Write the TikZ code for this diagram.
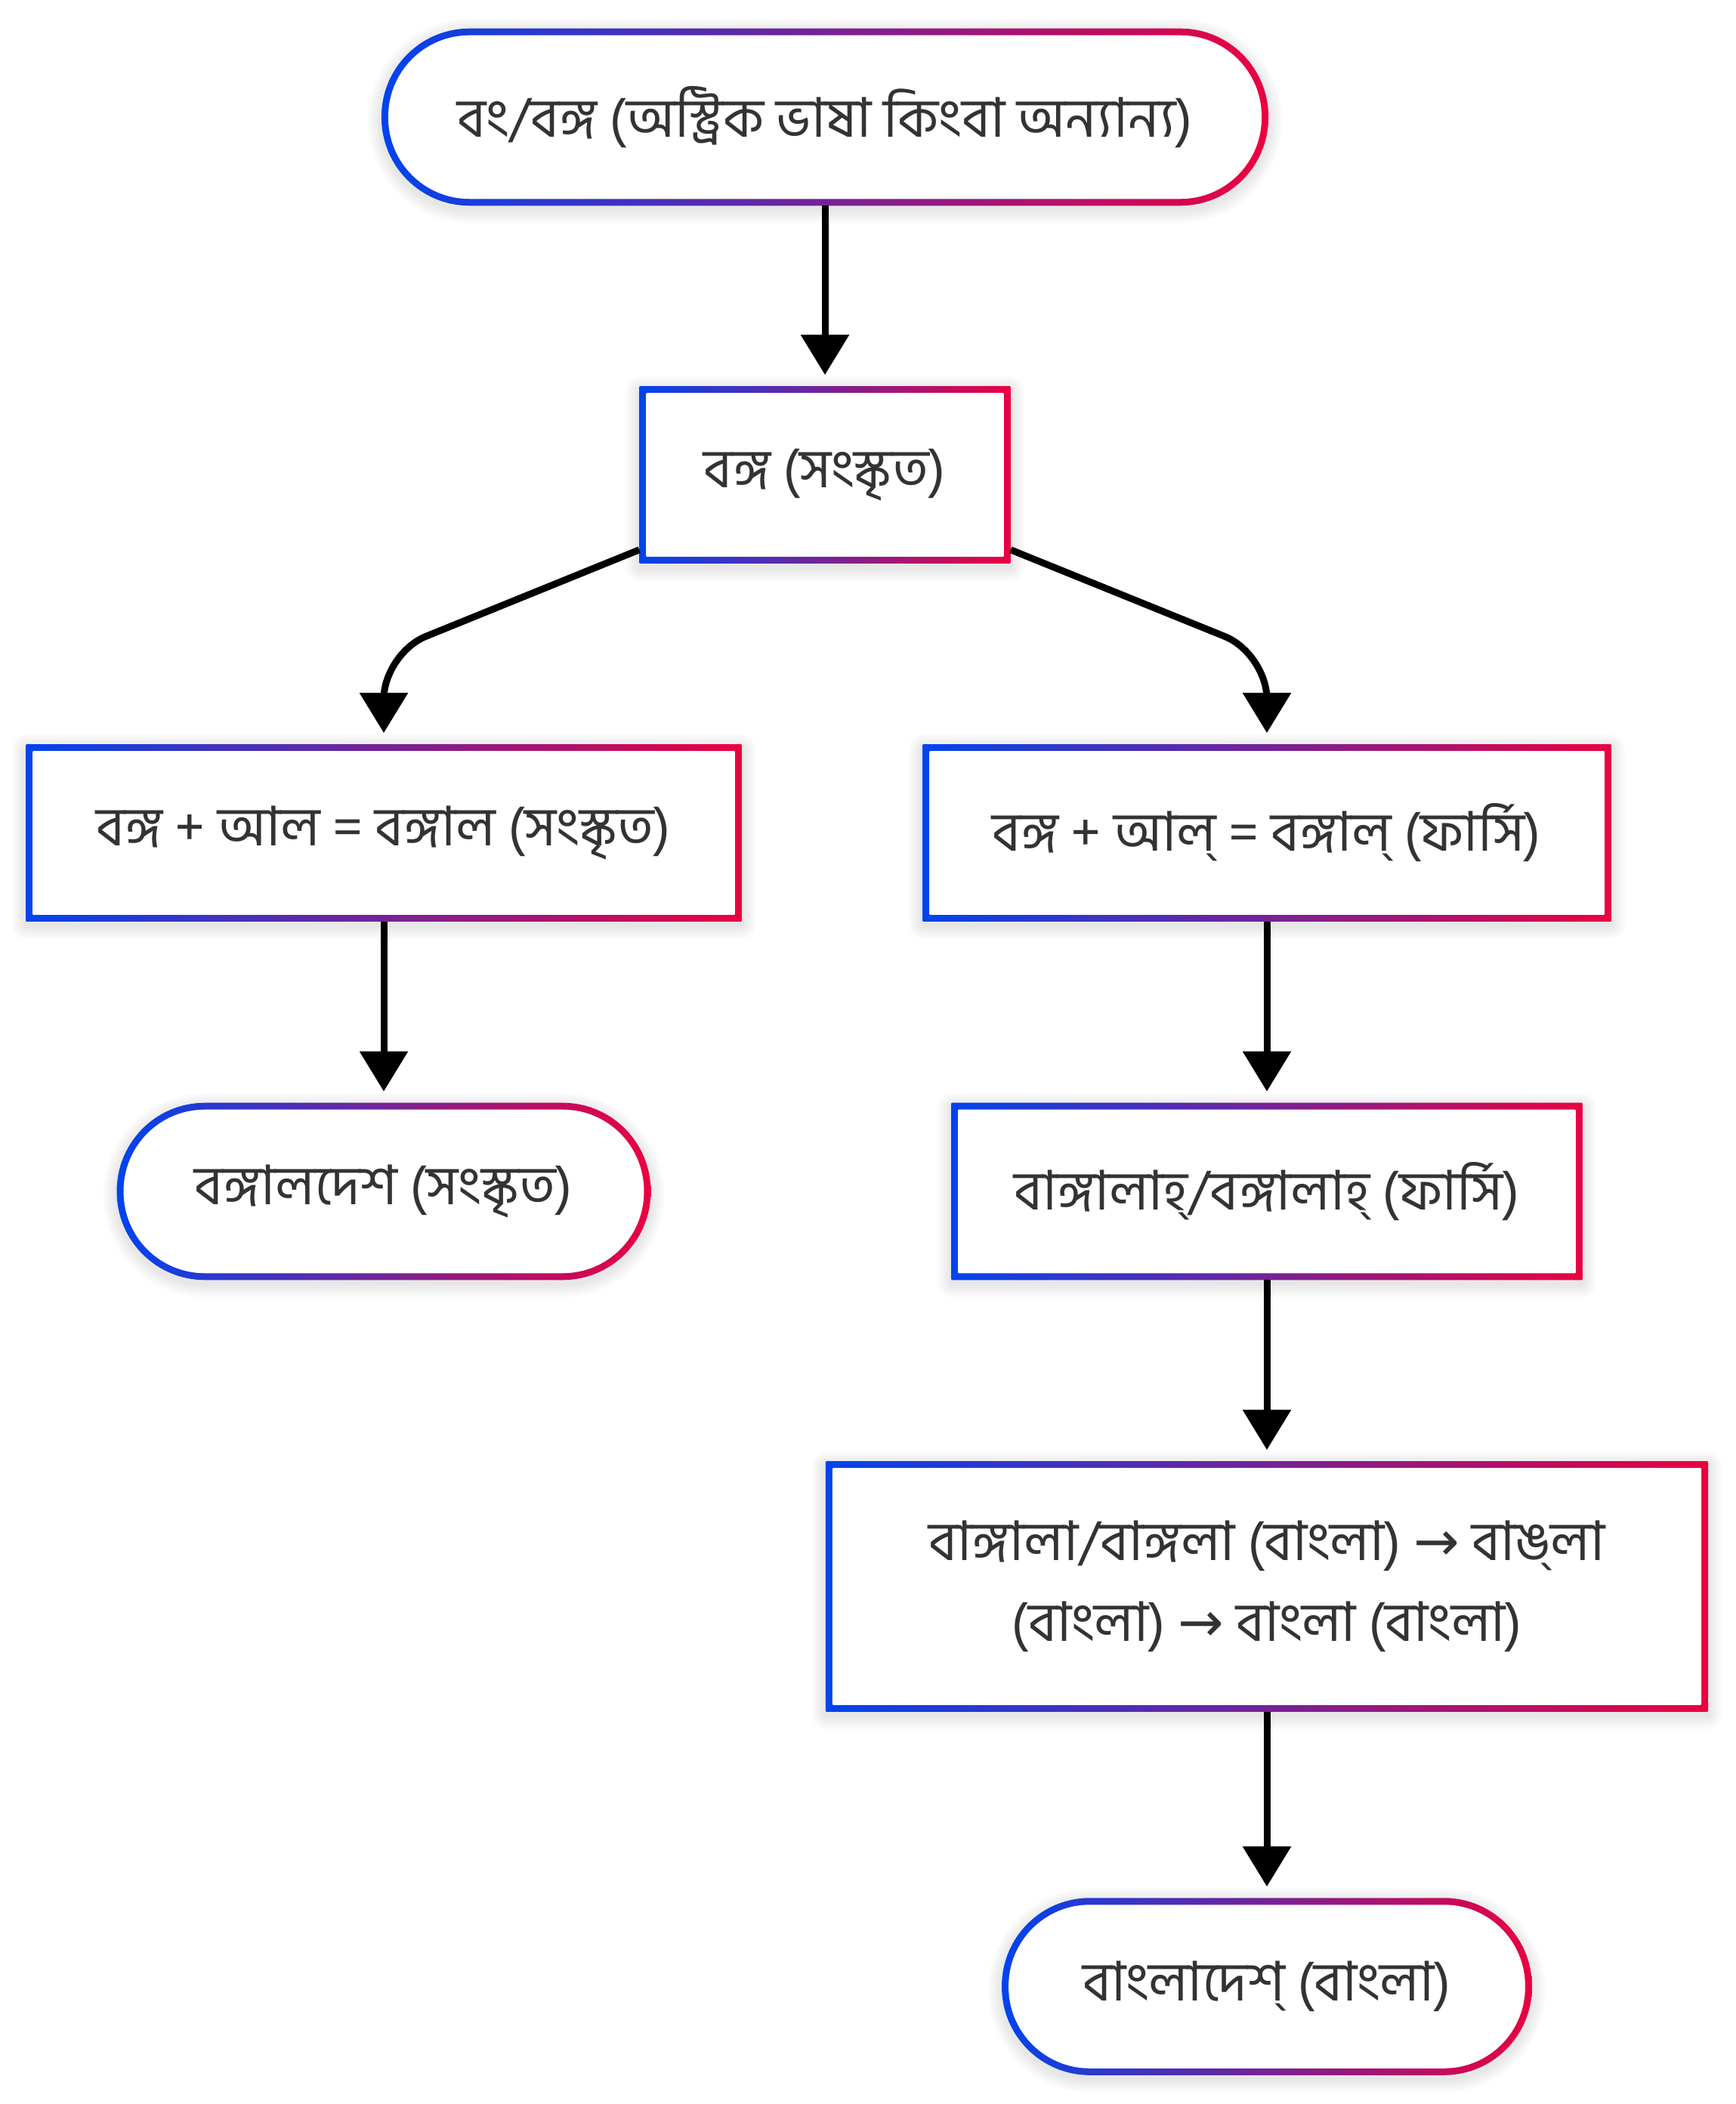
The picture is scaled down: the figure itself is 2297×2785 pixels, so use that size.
\documentclass[tikz,border=0pt]{standalone}
\usepackage{fontspec}
\newfontfamily\bn[Script=Bengali]{Hind Siliguri}
\newfontfamily\symf{DejaVu Sans}
\usetikzlibrary{arrows.meta,calc,backgrounds}
\definecolor{gblue}{RGB}{0,68,238}
\definecolor{gred}{RGB}{235,0,64}
\definecolor{txt}{RGB}{51,51,51}
\newcommand\gnode[2]{%
 \begin{scope}[on background layer]
  \foreach \k in {1,...,6}{
   \pgfmathsetlengthmacro\rr{#2+\k*0.03cm}
   \fill[black, opacity=0.015, rounded corners=\rr]
     ($(#1.south west)+(-3*\k,5+3*\k)$) rectangle ($(#1.north east)+(3*\k,5-3*\k)$);
  }
  \shade[left color=gblue, right color=gred, rounded corners=#2] (#1.south west) rectangle (#1.north east);
  \pgfmathsetlengthmacro\ri{max(#2-0.09cm,0.01cm)}
  \fill[white, rounded corners=\ri] ($(#1.south west)+(9,-9)$) rectangle ($(#1.north east)+(-9,9)$);
 \end{scope}}
\begin{document}
\begin{tikzpicture}[x=0.01cm,y=-0.01cm,
  lbl/.style={font=\bn\fontsize{20.6}{30.4}\selectfont, text=txt, align=center, inner sep=0pt, minimum height=2.33cm},
  conn/.style={line width=0.09cm, -{Triangle[length=0.53cm,width=0.62cm]}, shorten >=0.15cm}]
\useasboundingbox (0,0) rectangle (2297,2785);
\node[lbl, minimum width=11.72cm] (n1) at (1092,155) {বং/বঙ্গ (অস্ট্রিক ভাষা কিংবা অন্যান্য)};
\node[lbl, minimum width=4.90cm] (n2) at (1092,628.5) {বঙ্গ (সংস্কৃত)};
\node[lbl, minimum width=9.46cm] (n3) at (508,1102.5) {বঙ্গ + আল = বঙ্গাল (সংস্কৃত)};
\node[lbl, minimum width=9.10cm] (n4) at (1677,1102.5) {বঙ্গ + আল্ = বঙ্গাল্ (ফার্সি)};
\node[lbl, minimum width=7.05cm] (n5) at (508,1577) {বঙ্গালদেশ (সংস্কৃত)};
\node[lbl, minimum width=8.34cm] (n6) at (1677,1577) {বাঙ্গালাহ্/বঙ্গালাহ্ (ফার্সি)};
\node[lbl, minimum width=11.66cm, minimum height=3.30cm] (n7) at (1677,2100) {বাঙ্গালা/বাঙ্গলা (বাংলা) {\symf →} বাঙ্^^^^200cলা\\(বাংলা) {\symf →} বাংলা (বাংলা)};
\node[lbl, minimum width=7.00cm] (n8) at (1677,2629.5) {বাংলাদেশ্ (বাংলা)};
\gnode{n1}{1.165cm}
\gnode{n2}{0.01cm}
\gnode{n3}{0.01cm}
\gnode{n4}{0.01cm}
\gnode{n5}{1.165cm}
\gnode{n6}{0.01cm}
\gnode{n7}{0.01cm}
\gnode{n8}{1.165cm}
\draw[conn] (n1.south) -- (n2.north);
\draw[conn, rounded corners=0.6cm] ([yshift=0.18cm]n2.south west) -- (n3.north |- 0,865) -- (n3.north);
\draw[conn, rounded corners=0.6cm] ([yshift=0.18cm]n2.south east) -- (n4.north |- 0,865) -- (n4.north);
\draw[conn] (n3.south) -- (n5.north);
\draw[conn] (n4.south) -- (n6.north);
\draw[conn] (n6.south) -- (n7.north);
\draw[conn] (n7.south) -- (n8.north);
\end{tikzpicture}
\end{document}
